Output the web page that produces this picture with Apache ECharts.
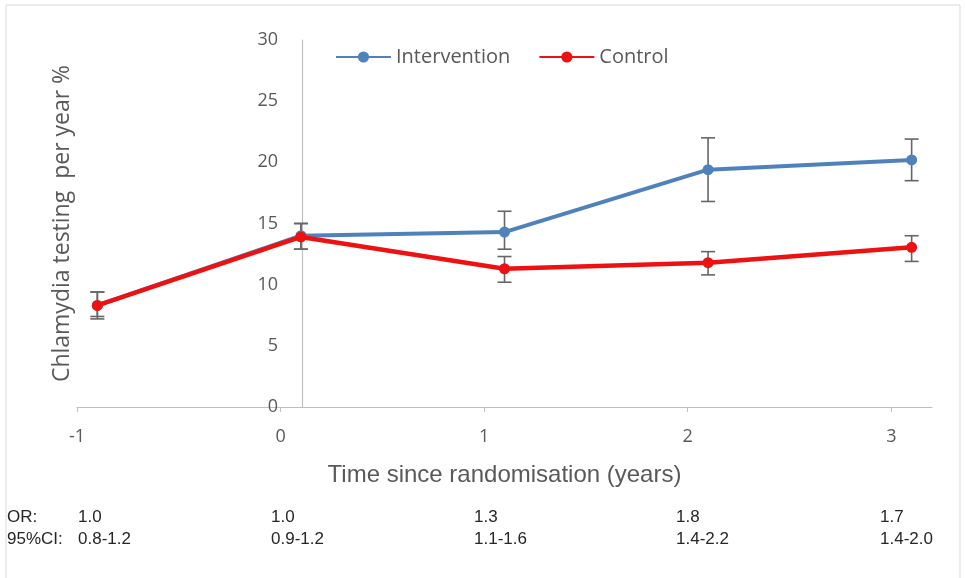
<!DOCTYPE html>
<html>
<head>
<meta charset="utf-8">
<script src="https://cdn.jsdelivr.net/npm/echarts@6/dist/echarts.min.js"></script>
<style>
html,body{margin:0;padding:0;background:#fff;}
#chart{width:965px;height:578px;}
</style>
</head>
<body>
<div id="chart"></div>
<script>
// ---- data ----
const xPositions = [-0.9, 0.1, 1.1, 2.1, 3.1];
const xTicks = [-1, 0, 1, 2, 3];
const intervention = [8.3, 14.0, 14.3, 19.4, 20.2];
const interventionLow = [7.4, 12.9, 12.9, 16.8, 18.5];
const interventionHigh = [9.4, 15.0, 16.0, 22.0, 21.9];
const control = [8.3, 13.9, 11.3, 11.8, 13.05];
const controlLow = [7.2, 12.9, 10.2, 10.8, 11.9];
const controlHigh = [9.4, 15.0, 12.3, 12.7, 14.0];
const orLabel = 'OR:';
const ciLabel = '95%CI:';
const orValues = ['1.0', '1.0', '1.3', '1.8', '1.7'];
const ciValues = ['0.8-1.2', '0.9-1.2', '1.1-1.6', '1.4-2.2', '1.4-2.0'];

const chart = echarts.init(document.getElementById('chart'));
const grey = '#595959';
const blue = '#4f81bd';
const red = '#ee1111';
const tickFont = 'Open Sans';
const noteFont = 'Liberation Sans, sans-serif';

function pairs(ys) { return xPositions.map((x, i) => [x, ys[i]]); }
function bars(lo, hi) { return xPositions.map((x, i) => [x, lo[i], hi[i]]); }

function errRender(params, api) {
  const x = api.value(0);
  const p1 = api.coord([x, api.value(2)]);
  const p2 = api.coord([x, api.value(1)]);
  const h = 7;
  const st = { stroke: '#666666', lineWidth: 1.6 };
  return {
    type: 'group',
    children: [
      { type: 'line', shape: { x1: p1[0], y1: p1[1], x2: p2[0], y2: p2[1] }, style: st },
      { type: 'line', shape: { x1: p1[0] - h, y1: p1[1], x2: p1[0] + h, y2: p1[1] }, style: st },
      { type: 'line', shape: { x1: p2[0] - h, y1: p2[1], x2: p2[0] + h, y2: p2[1] }, style: st }
    ]
  };
}

// note texts below chart
const colX = [78, 271, 474, 676, 880];
const noteStyle = '17px ' + noteFont;
const graphics = [
  { type: 'rect', shape: { x: 6, y: 5, width: 954, height: 590 }, style: { fill: null, stroke: '#d9d9d9', lineWidth: 1 }, silent: true },
  { type: 'text', left: 7, top: 509, style: { text: orLabel, font: noteStyle, fill: '#262626' } },
  { type: 'text', left: 7, top: 531, style: { text: ciLabel, font: noteStyle, fill: '#262626' } }
];
orValues.forEach((v, i) => graphics.push({ type: 'text', left: colX[i], top: 509, style: { text: v, font: noteStyle, fill: '#262626' } }));
ciValues.forEach((v, i) => graphics.push({ type: 'text', left: colX[i], top: 531, style: { text: v, font: noteStyle, fill: '#262626' } }));

chart.setOption({
  animation: false,
  backgroundColor: '#ffffff',
  grid: { left: 77, right: 33, top: 40, bottom: 171 },
  legend: {
    left: 330, top: 42,
    itemWidth: 55, itemHeight: 14, itemGap: 28,
    textStyle: { fontFamily: tickFont, fontSize: 20, color: grey },
    data: ['Intervention', 'Control']
  },
  xAxis: {
    type: 'value', min: -1, max: 3.2, interval: 1,
    splitLine: { show: false },
    axisLine: { show: true, lineStyle: { color: '#bfbfbf', width: 1.2 } },
    axisTick: { show: true, length: 5, lineStyle: { color: '#bfbfbf' }, customValues: xTicks },
    axisLabel: { color: grey, fontFamily: tickFont, fontSize: 18, margin: 21, customValues: xTicks },
    name: 'Time since randomisation (years)',
    nameLocation: 'middle', nameGap: 56,
    nameTextStyle: { fontFamily: noteFont, fontSize: 24, color: grey }
  },
  yAxis: {
    type: 'value', min: 0, max: 30, interval: 5,
    position: 'left', offset: -225,
    splitLine: { show: false },
    axisLine: { show: true, lineStyle: { color: '#bfbfbf', width: 1.2 } },
    axisTick: { show: false },
    axisLabel: { color: grey, fontFamily: tickFont, fontSize: 18, margin: 24 },
    name: 'Chlamydia testing  per year %',
    nameLocation: 'middle', nameGap: 228,
    nameTextStyle: { fontFamily: tickFont, fontSize: 23, color: grey }
  },
  graphic: graphics,
  series: [
    { type: 'custom', name: 'errI', renderItem: errRender, data: bars(interventionLow, interventionHigh), encode: { x: 0, y: [1, 2] }, z: 1, silent: true },
    { type: 'custom', name: 'errC', renderItem: errRender, data: bars(controlLow, controlHigh), encode: { x: 0, y: [1, 2] }, z: 1, silent: true },
    { type: 'line', name: 'Intervention', data: pairs(intervention), color: blue, symbol: 'circle', symbolSize: 11,
      lineStyle: { width: 4, color: blue }, itemStyle: { color: blue }, z: 3 },
    { type: 'line', name: 'Control', data: pairs(control), color: red, symbol: 'circle', symbolSize: 11,
      lineStyle: { width: 4.5, color: red }, itemStyle: { color: red }, z: 4 }
  ]
});
</script>
</body>
</html>
